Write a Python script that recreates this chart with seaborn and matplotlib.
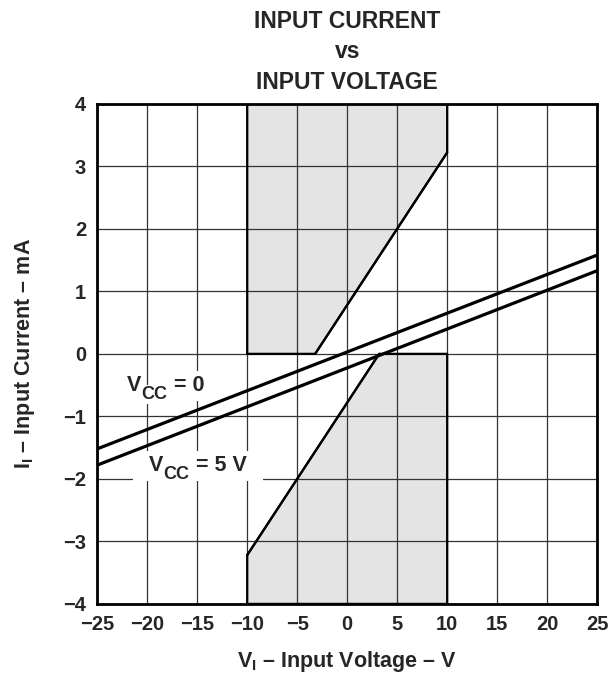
import matplotlib
matplotlib.use("Agg")
import matplotlib.pyplot as plt
import seaborn as sns
import pandas as pd

# values (V, mA)
input_voltage = [-25, 25]
current_vcc0 = [-1.52, 1.58]
current_vcc5 = [-1.78, 1.33]

# clamp diode limits
clamp_hi_v = [-3.2, 10]
clamp_hi_i = [0, 3.22]
clamp_lo_v = [-10, 3.2]
clamp_lo_i = [-3.22, 0]

# shaded (forbidden) areas
region_hi_v = [-10, -3.2, 10, 10, -10, -10]
region_hi_i = [0, 0, 3.22, 4, 4, 0]
region_lo_v = [-10, 3.2, 10, 10, -10, -10]
region_lo_i = [-3.22, 0, 0, -4, -4, -3.22]

x_ticks = list(range(-25, 30, 5))
y_ticks = list(range(-4, 5))

sns.set_style("white")
plt.rcParams['font.family'] = ['Liberation Sans', 'DejaVu Sans']
plt.rcParams['font.weight'] = 'bold'
plt.rcParams['mathtext.fontset'] = 'custom'
plt.rcParams['mathtext.rm'] = 'Liberation Sans:bold'
plt.rcParams['mathtext.bf'] = 'Liberation Sans:bold'
plt.rcParams['mathtext.it'] = 'Liberation Sans:bold'
plt.rcParams['mathtext.default'] = 'bf'

fig = plt.figure(figsize=(6.15, 6.74), dpi=100)
ax = fig.add_axes([0.158, 0.104, 0.813, 0.742])

ax.fill(region_hi_v, region_hi_i, facecolor='#e4e4e4', edgecolor='none', zorder=0.3)
ax.fill(region_lo_v, region_lo_i, facecolor='#e4e4e4', edgecolor='none', zorder=0.3)
ax.plot(region_hi_v, region_hi_i, color='black', lw=1.6, zorder=2)
ax.plot(region_lo_v, region_lo_i, color='black', lw=1.6, zorder=2)

df = pd.DataFrame({
    'v': input_voltage * 2,
    'i': current_vcc0 + current_vcc5,
    'vcc': ['0'] * 2 + ['5'] * 2,
})
sns.lineplot(data=df, x='v', y='i', hue='vcc', palette=['black', 'black'],
             lw=2.3, legend=False, ax=ax, zorder=3)
sns.lineplot(x=clamp_hi_v, y=clamp_hi_i, color='black', lw=1.6, ax=ax, zorder=2)
sns.lineplot(x=clamp_lo_v, y=clamp_lo_i, color='black', lw=1.6, ax=ax, zorder=2)

ax.set_xlim(-25, 25)
ax.set_ylim(-4, 4)
ax.set_xticks(x_ticks)
ax.set_yticks(y_ticks)
ax.set_axisbelow(True)
ax.grid(True, color='#333333', lw=0.9)
ax.tick_params(length=0, labelsize=14.5)
ax.tick_params(axis='x', pad=8)
ax.tick_params(axis='y', pad=8)
for s in ax.spines.values():
    s.set_color('black')
    s.set_linewidth(2)
    s.set_zorder(4)


def vcc_label(x, y, rest, side=''):
    box = dict(facecolor='white', edgecolor='none', boxstyle='square,pad=0.2')
    v = ax.text(x, y, side + 'V', fontsize=15.5, ha='left', va='bottom', zorder=1.5, bbox=box)
    cc = ax.annotate('CC', xy=(1, 0), xycoords=v, xytext=(0, -4.5), textcoords='offset points',
                     fontsize=13, va='bottom', zorder=1.8,
                     bbox=dict(facecolor='white', edgecolor='none', boxstyle='square,pad=0.05'))
    ax.annotate(rest + side, xy=(1, 0), xycoords=cc, xytext=(0, 4.5), textcoords='offset points',
                fontsize=15.5, va='bottom', zorder=1.5, bbox=box)


vcc_label(-22.0, -0.68, ' = 0')
vcc_label(-21.0, -1.96, ' = 5 V', side='  ')

ax.set_xlabel(r'V$_I$ – Input Voltage – V', fontsize=15.5, fontweight='bold', labelpad=11)
ax.set_ylabel(r'I$_I$ – Input Current – mA', fontsize=15.5, fontweight='bold', labelpad=19)
ax.set_title('INPUT CURRENT\nvs\nINPUT VOLTAGE', fontsize=16.5, fontweight='bold',
             linespacing=1.4, pad=11)

plt.savefig('out.png', dpi=100)
